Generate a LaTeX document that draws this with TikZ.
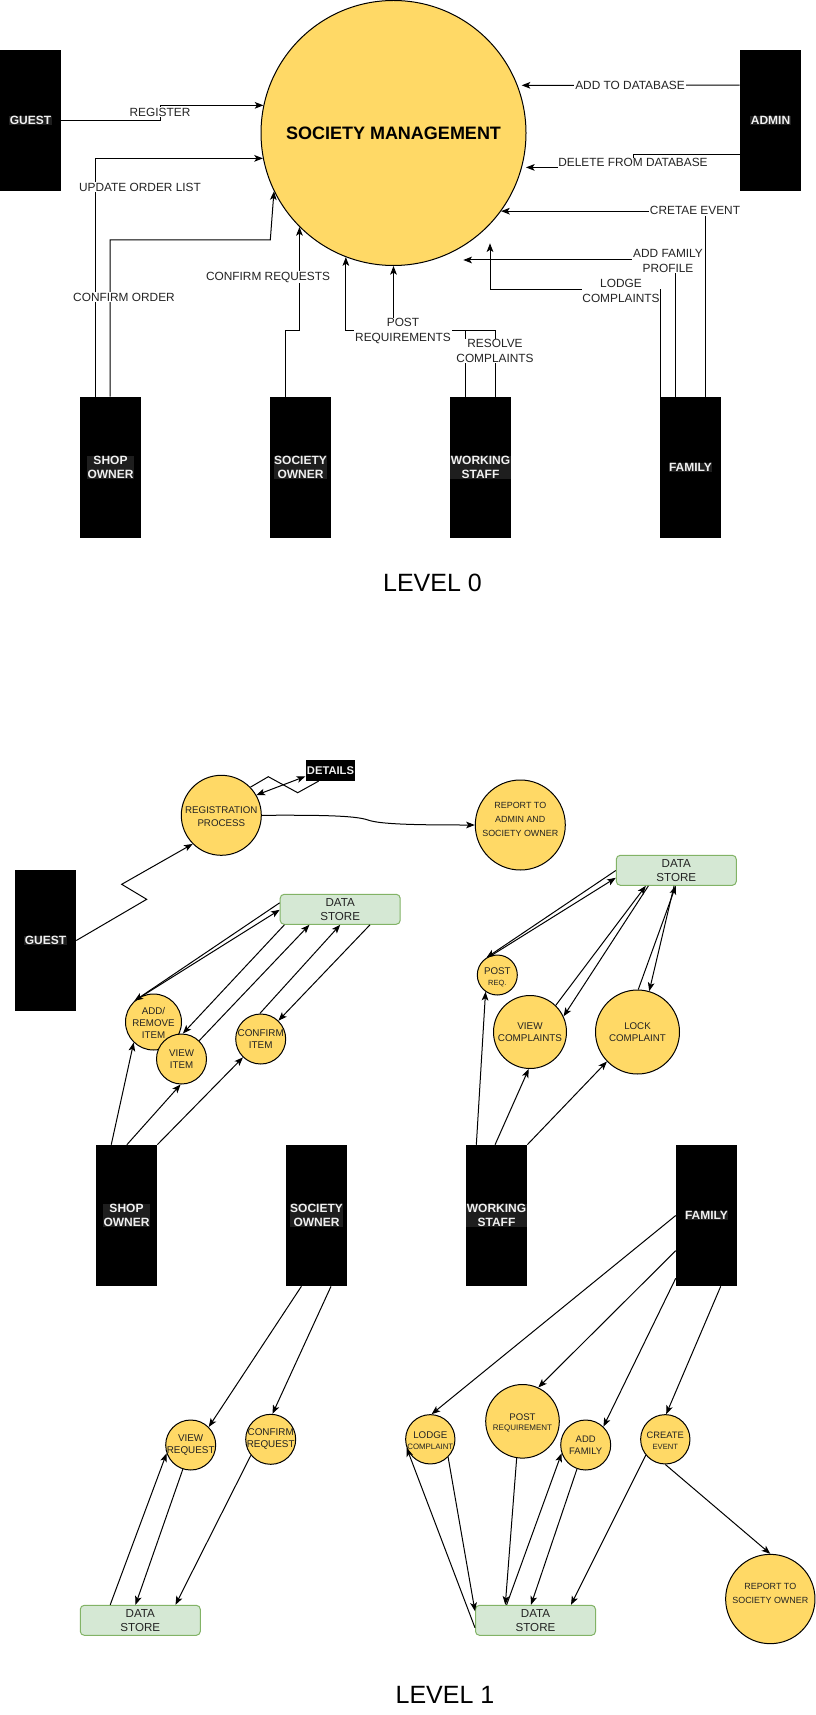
\documentclass[tikz,border=0pt]{standalone}
\usepackage{fontspec}
\setmainfont{Liberation Sans}
\usetikzlibrary{arrows.meta,calc}
\definecolor{yel}{RGB}{255,217,102}
\definecolor{dsfill}{RGB}{213,232,212}
\definecolor{dsdraw}{RGB}{130,179,102}
\definecolor{lblbg}{RGB}{30,30,30}
\definecolor{txt}{RGB}{35,35,35}
\definecolor{entw}{RGB}{240,240,240}
\tikzset{
 ent/.style={fill=black, draw=none, inner sep=0, minimum width=45.75pt, minimum height=105.75pt},
 entlbl/.style={fill=lblbg, text=entw, font=\fontsize{9pt}{10.7pt}\selectfont\bfseries, inner sep=0.4pt, align=center},
 proc/.style={circle, draw=black, fill=yel, line width=0.75pt, inner sep=0},
 ptxt/.style={inner sep=0, align=center, text=txt},
 ds/.style={rectangle, rounded corners=3pt, draw=dsdraw, fill=dsfill, line width=0.75pt, minimum width=90pt, minimum height=22.5pt, inner sep=0, align=center, text=txt, font=\fontsize{8.7pt}{10.5pt}\selectfont},
 lbl/.style={fill=white, inner sep=0.6pt, align=center, text=txt, font=\fontsize{8.9pt}{10.7pt}\selectfont},
 ln/.style={draw=black, line width=0.75pt},
 arr/.style={ln, -{Stealth[length=6.5pt,width=5pt,inset=1.6pt]}},
 darr/.style={ln, {Stealth[length=6.5pt,width=5pt,inset=1.6pt]}-{Stealth[length=6.5pt,width=5pt,inset=1.6pt]}},
}
\begin{document}
\begin{tikzpicture}[x=0.75pt,y=-0.75pt]
\fill[white] (0,0) rectangle (816,1715);
\useasboundingbox (0,0) rectangle (816,1715);

% ================= LEVEL 0 =================
\node[proc, minimum size=198.75pt] (sm) at (393.5,133) {};
\node[ptxt, font=\fontsize{13.5pt}{16pt}\selectfont\bfseries, text=black] (smt) at (393.5,133) {SOCIETY MANAGEMENT};

\node[ent] (guest) at (30.5,120.5) {};
\node[entlbl] (guestl) at (guest) {GUEST};
\node[ent] (admin) at (770.5,120.5) {};
\node[entlbl] (adminl) at (admin) {ADMIN};
\node[ent] (shop) at (110.5,467.5) {};
\node[entlbl] (shopl) at (shop) {SHOP\\OWNER};
\node[ent] (so) at (300.5,467.5) {};
\node[entlbl] (sol) at (so) {SOCIETY\\OWNER};
\node[ent] (ws) at (480.5,467.5) {};
\node[entlbl] (wsl) at (ws) {WORKING\\STAFF};
\node[ent] (fam) at (690.5,467.5) {};
\node[entlbl] (faml) at (fam) {FAMILY};

\coordinate (afpEnd) at (463.3,260);
\coordinate (lcEnd) at (490,243.3);

\draw[arr] (guest.east) -- ++(99,0) |- (sm.168.8);
\draw[arr] ($(shop.north west)+(15.7,0)$) |- (sm.191.5);
\draw[arr] ($(shop.north west)+(30.3,0)$) |- (270.3,240) -- (sm.206.5);
\draw[arr] ($(so.north west)+(15.3,0)$) -- ++(0,-66) -| (sm.225);
\draw[arr] ($(ws.north west)+(15.3,0)$) -- ++(0,-66) -| (sm.249.5);
\draw[arr] ($(ws.north west)+(45.3,0)$) -- ++(0,-66) -| (sm.south);
\draw[arr] ($(fam.north west)+(0.7,0)$) -- ++(0,-107) -| (lcEnd);
\draw[arr] ($(fam.north west)+(15.3,0)$) |- (afpEnd);
\draw[arr] ($(fam.north west)+(45.3,0)$) |- (sm.324);
\draw[arr, shorten >=3pt] ($(admin.north west)+(0,35.3)$) -- (sm.21.1);
\draw[arr, shorten >=3pt] ($(admin.north west)+(0,105)$) -- ++(-106.7,0) |- (sm.-15.5);

\node[lbl] (l1) at (160,112) {REGISTER};
\node[lbl] (l2) at (140,187) {UPDATE ORDER LIST};
\node[lbl] (l3) at (124,297) {CONFIRM ORDER};
\node[lbl] (l4) at (268,277) {CONFIRM REQUESTS};
\node[lbl] (l5) at (403,331) {POST\\REQUIREMENTS};
\node[lbl] (l6) at (495,351) {RESOLVE\\COMPLAINTS};
\node[lbl] (l7) at (621,291) {LODGE\\COMPLAINTS};
\node[lbl] (l8) at (668,261) {ADD FAMILY\\PROFILE};
\node[lbl] (l9) at (695,210.7) {CRETAE EVENT};
\node[lbl] (l10) at (630,85.3) {ADD TO DATABASE};
\node[lbl] (l11) at (633,162.7) {DELETE FROM DATABASE};

\node[text=black, font=\fontsize{18.75pt}{22pt}\selectfont, inner sep=0] (lev0) at (432.5,583.3) {LEVEL 0};

% ================= LEVEL 1 =================
\node[ent] (guest1) at (45.5,940.5) {};
\node[entlbl] (guest1l) at (guest1) {GUEST};
\node[ent] (shop1) at (126.5,1215.5) {};
\node[entlbl] (shop1l) at (shop1) {SHOP\\OWNER};
\node[ent] (so1) at (316.5,1215.5) {};
\node[entlbl] (so1l) at (so1) {SOCIETY\\OWNER};
\node[ent] (ws1) at (496.5,1215.5) {};
\node[entlbl] (ws1l) at (ws1) {WORKING\\STAFF};
\node[ent] (fam1) at (706.5,1215.5) {};
\node[entlbl] (fam1l) at (fam1) {FAMILY};

\node[fill=black, text=entw, font=\fontsize{8.4pt}{10pt}\selectfont\bfseries, inner xsep=1pt, minimum height=15.5pt] (det) at (330.5,770.5) {DETAILS};

\node[proc, minimum size=60pt] (reg) at (221.3,815.3) {};
\node[ptxt, font=\fontsize{7.3pt}{10.2pt}\selectfont] (regt) at (221.3,816.5) {REGISTRATION\\PROCESS};
\node[proc, minimum size=67.5pt] (rep1) at (520.3,825) {};
\node[ptxt, font=\fontsize{6.7pt}{10.5pt}\selectfont] (rep1t) at (520.3,819.7) {REPORT TO\\ADMIN AND\\SOCIETY OWNER};

\node[ds] (ds1) at (340.2,909.3) {DATA\\STORE};
\node[ds] (ds2) at (676.3,870.3) {DATA\\STORE};
\node[ds] (ds3) at (140.3,1620.3) {DATA\\STORE};
\node[ds] (ds4) at (535.5,1620.3) {DATA\\STORE};

\node[proc, minimum size=42pt] (addrem) at (153.5,1022) {};
\node[ptxt, font=\fontsize{7.3pt}{9pt}\selectfont] (addremt) at (153.5,1022.7) {ADD/\\REMOVE\\ITEM};
\node[proc, minimum size=37.5pt] (viewitem) at (181.5,1059) {};
\node[ptxt, font=\fontsize{7.3pt}{9pt}\selectfont] (viewitemt) at (181.5,1059.3) {VIEW\\ITEM};
\node[proc, minimum size=37.5pt] (confitem) at (260.7,1039) {};
\node[ptxt, font=\fontsize{7.4pt}{9pt}\selectfont] (confitemt) at (260.7,1039.3) {CONFIRM\\ITEM};

\node[proc, minimum size=30pt] (postreq) at (497.3,975) {};
\node[ptxt, font=\fontsize{7.3pt}{8pt}\selectfont] (postreqt) at (497.3,977) {POST\\{\fontsize{5.6pt}{7pt}\selectfont REQ.}};
\node[proc, minimum size=54.75pt] (viewcomp) at (530,1032) {};
\node[ptxt, font=\fontsize{7.4pt}{8.8pt}\selectfont] (viewcompt) at (530,1032.5) {VIEW\\COMPLAINTS};
\node[proc, minimum size=63pt] (lockcomp) at (637.5,1032) {};
\node[ptxt, font=\fontsize{7.3pt}{8.8pt}\selectfont] (lockcompt) at (637.5,1032.5) {LOCK\\COMPLAINT};

\node[proc, minimum size=37.5pt] (viewreq) at (190.7,1445) {};
\node[ptxt, font=\fontsize{7.4pt}{9pt}\selectfont] (viewreqt) at (190.7,1445.3) {VIEW\\REQUEST};
\node[proc, minimum size=37.5pt] (confreq) at (270.7,1439.3) {};
\node[ptxt, font=\fontsize{7.4pt}{9pt}\selectfont] (confreqt) at (270.7,1439.3) {CONFIRM\\REQUEST};

\node[proc, minimum size=37pt] (lodge) at (430.3,1439.3) {};
\node[ptxt, font=\fontsize{7.3pt}{8pt}\selectfont] (lodget) at (430.3,1440.8) {LODGE\\{\fontsize{5.9pt}{7pt}\selectfont COMPLAINT}};
\node[proc, minimum size=55.2pt] (postreq2) at (522.5,1421.3) {};
\node[ptxt, font=\fontsize{7.2pt}{8pt}\selectfont] (postreq2t) at (522.5,1422.8) {POST\\{\fontsize{6pt}{7pt}\selectfont REQUIREMENT}};
\node[proc, minimum size=37.5pt] (addfam) at (585.7,1445) {};
\node[ptxt, font=\fontsize{7.1pt}{9pt}\selectfont] (addfamt) at (585.7,1445.7) {ADD\\FAMILY};
\node[proc, minimum size=37pt] (create) at (665.3,1439.3) {};
\node[ptxt, font=\fontsize{7pt}{8pt}\selectfont] (createt) at (665.3,1440.8) {CREATE\\{\fontsize{5.7pt}{7pt}\selectfont EVENT}};
\node[proc, minimum size=67pt] (rep2) at (770.3,1599) {};
\node[ptxt, font=\fontsize{6.7pt}{10.2pt}\selectfont] (rep2t) at (770.3,1593.5) {REPORT TO\\SOCIETY OWNER};

% guest / registration
\draw[arr] (guest1.east) -- (146.7,899.3) -- (121.7,884.3) -- (reg.225);
\draw[ln] (reg.44) -- (268.3,776.7) -- (297.7,792.7) -- ($(det.south west)+(13.3,0)$);
\draw[darr] (reg.30) -- ($(det.south west)+(0,-4.7)$);
\draw[arr] (reg.east) .. controls (320,815) and (355,815.5) .. (368,820) .. controls (380,824.5) and (420,825) .. (rep1.west);

% shop owner group
\draw[arr] ($(ds1.north west)+(0,9)$) -- (addrem.132);
\draw[arr] (addrem.112) -- ($(ds1.north west)+(0,16)$);
\draw[arr] ($(ds1.south west)+(4.7,0)$) -- (viewitem.87);
\draw[arr] (viewitem.46) -- ($(ds1.south west)+(29.7,0)$);
\draw[arr] (confitem.92) -- (ds1.south);
\draw[arr] ($(ds1.south)+(29.8,0)$) -- (confitem.46);
\draw[arr] ($(shop1.north west)+(15.5,0)$) -- (addrem.226);
\draw[arr] ($(shop1.north west)+(31.1,0)$) -- (viewitem.268);
\draw[arr] (shop1.north east) -- (confitem.226);

% working staff group
\draw[arr] ($(ds2.north west)+(0,15.7)$) -- (postreq.122);
\draw[arr] (postreq.106) -- ($(ds2.north west)+(0,23)$);
\draw[arr] (viewcomp.46) -- ($(ds2.south west)+(30,0)$);
\draw[arr] ($(ds2.south west)+(32.6,0)$) -- (viewcomp.25);
\draw[arr] (lockcomp.89) -- ($(ds2.south west)+(60,0)$);
\draw[arr] ($(ds2.south west)+(58.3,0)$) -- (lockcomp.74);
\draw[arr] ($(ws1.north west)+(10.6,0)$) -- (postreq.235);
\draw[arr] ($(ws1.north west)+(29.3,0)$) -- (viewcomp.268);
\draw[arr] (ws1.north east) -- (lockcomp.224);

% society owner group
\draw[arr] ($(so1.south west)+(15.7,0)$) -- (viewreq.45);
\draw[arr] ($(so1.south west)+(45.3,0)$) -- (confreq.86);
\draw[arr] ($(ds3.north west)+(30.4,0)$) -- (viewreq.199);
\draw[arr] (viewreq.252) -- ($(ds3.north west)+(55.7,0)$);
\draw[arr] (confreq.219) -- ($(ds3.north west)+(95.7,0)$);

% family group
\draw[arr] (fam1.west) -- (lodge.87);
\draw[arr] ($(fam1.west)+(0,35.2)$) -- (postreq2.65);
\draw[arr] ($(fam1.west)+(0,62.8)$) -- (addfam.46);
\draw[arr] ($(fam1.south west)+(45,0)$) -- (create.88);
\draw[arr] ($(ds4.south west)+(0,-8)$) -- (lodge.200);
\draw[arr] (lodge.315) -- ($(ds4.north west)+(0,6.4)$);
\draw[arr] (postreq2.261) -- ($(ds4.north west)+(30.3,0)$);
\draw[arr] ($(ds4.north west)+(31.6,0)$) -- (addfam.199);
\draw[arr] (addfam.250) -- ($(ds4.north west)+(56,0)$);
\draw[arr] (create.219) -- ($(ds4.north west)+(96,0)$);
\draw[arr] (create.south) -- (rep2.north);

\node[text=black, font=\fontsize{18.75pt}{22pt}\selectfont, inner sep=0] (lev1) at (445,1695) {LEVEL 1};
\end{tikzpicture}
\end{document}
